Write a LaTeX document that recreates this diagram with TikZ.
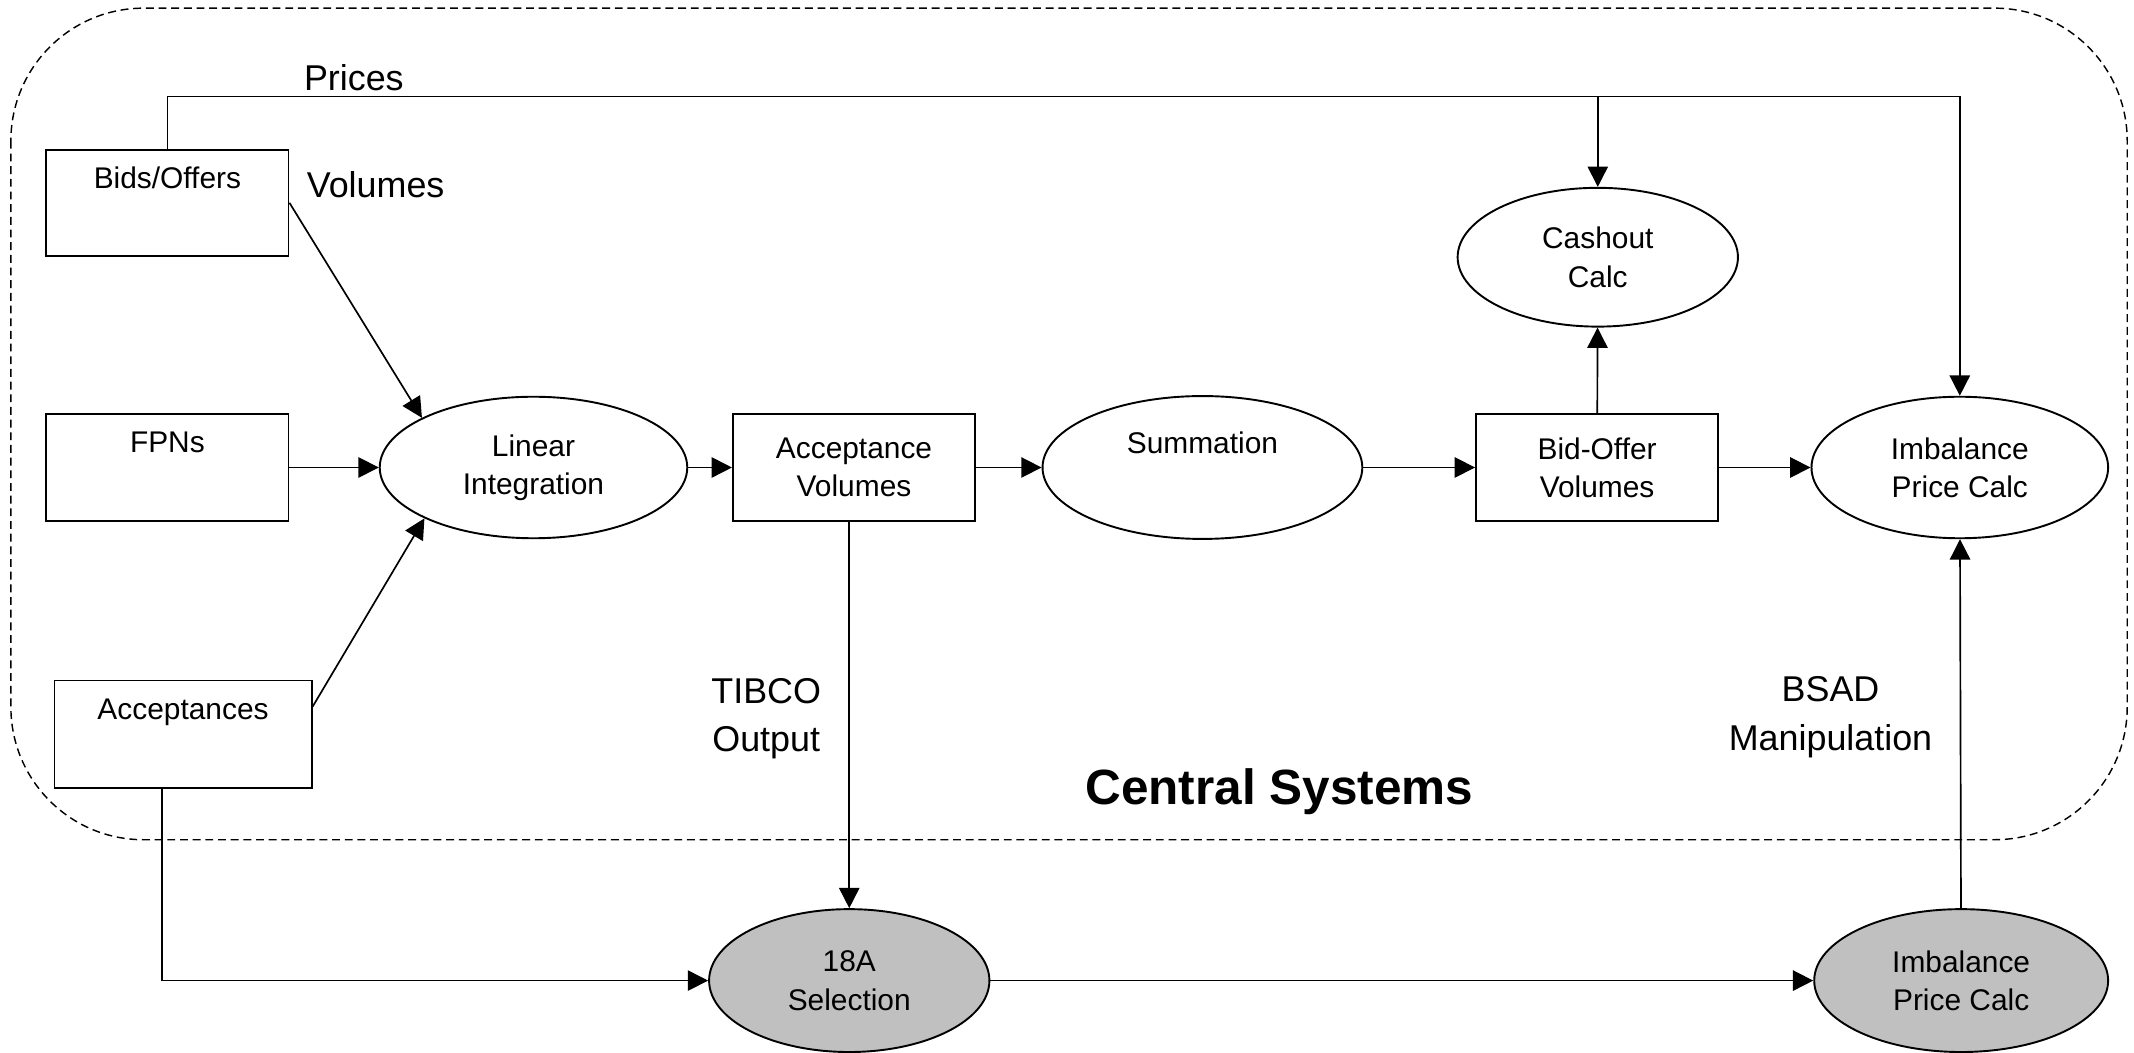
\documentclass[tikz,border=0pt]{standalone}
\usepackage{fontspec}
\setmainfont{Liberation Sans}
\usetikzlibrary{shapes.geometric,arrows.meta}
\definecolor{extgray}{RGB}{192,192,192}
\begin{document}
\begin{tikzpicture}[x=0.02cm, y=-0.02cm,
    box/.style={draw, line width=0.8pt, rectangle, minimum width=3.56cm, minimum height=1.56cm, inner sep=0pt, align=center, font=\fontsize{12.5}{16}\selectfont},
    calc/.style={draw, line width=0.8pt, ellipse, inner sep=0pt, align=center, font=\fontsize{12.5}{16}\selectfont},
    ext/.style={calc, fill=extgray},
    flow/.style={line width=0.7pt, -{Triangle[length=8.5pt,width=8.5pt]}},
    tag/.style={align=center, font=\fontsize{15}{20.4}\selectfont}]
    % Frame
    \useasboundingbox (0,0) rectangle (1568,773);
    \draw[line width=0.6pt, dash pattern=on 3.3pt off 2pt, rounded corners=1.95cm] (8,6) rectangle (1563,617);

    % Inputs
    \node[box] (bids) at (123,149) {Bids/Offers\\\strut};
    \node[box] (fpns) at (123,343.5) {FPNs\\\strut};
    \node[box, minimum width=3.78cm, minimum height=1.58cm] (accs) at (134.5,539.5) {Acceptances\\\strut};

    % Processing chain
    \node[calc, minimum width=4.52cm, minimum height=2.08cm] (lin) at (392,343.5) {Linear\\Integration};
    \node[box] (accvol) at (627.5,343.5) {Acceptance\\Volumes};
    \node[calc, minimum width=4.7cm, minimum height=2.1cm] (summ) at (883.5,343.5) {Summation\\\strut};
    \node[box] (bidoff) at (1173.5,343.5) {Bid-Offer\\Volumes};
    \node[calc, minimum width=4.12cm, minimum height=2.04cm] (cash) at (1174,189) {Cashout\\Calc};
    \node[calc, minimum width=4.36cm, minimum height=2.08cm] (imb) at (1440,343.5) {Imbalance\\Price Calc};

    % Outside the central systems
    \node[ext, minimum width=4.12cm, minimum height=2.1cm] (sel) at (624,720.5) {18A\\Selection};
    \node[ext, minimum width=4.32cm, minimum height=2.1cm] (imbg) at (1441,720.5) {Imbalance\\Price Calc};

    % Labels
    \node[tag] (prices) at (260,57) {Prices};
    \node[tag] (vols) at (276,136) {Volumes};
    \node[tag] (tibco) at (563,528) {TIBCO\\Output};
    \node[tag] (bsad) at (1345,527) {BSAD\\Manipulation};
    \node[font=\bfseries\fontsize{20.7}{25}\selectfont] (central) at (940,582) {Central Systems};

    % Prices bus
    \coordinate (bus) at (0,71);
    \draw[flow] (bids.north) -- (bids.north |- bus) -| (imb.north);
    \draw[flow] (cash.north |- bus) -- (cash.north);

    % Flows
    \draw[flow] (bids.east) -- (lin.156);
    \draw[flow] (fpns) -- (lin);
    \draw[flow] (accs.12) -- (lin.205);
    \draw[flow] (lin) -- (accvol);
    \draw[flow] (accvol) -- (summ);
    \draw[flow] (summ) -- (bidoff);
    \draw[flow] (bidoff) -- (imb);
    \draw[flow] (bidoff) -- (cash);
    \draw[flow] (sel.north |- accvol.south) -- (sel.north);
    \draw[flow] ([xshift=-0.31cm]accs.south) |- (sel);
    \draw[flow] (sel) -- (imbg);
    \draw[flow] (imbg) -- (imb);
\end{tikzpicture}
\end{document}
